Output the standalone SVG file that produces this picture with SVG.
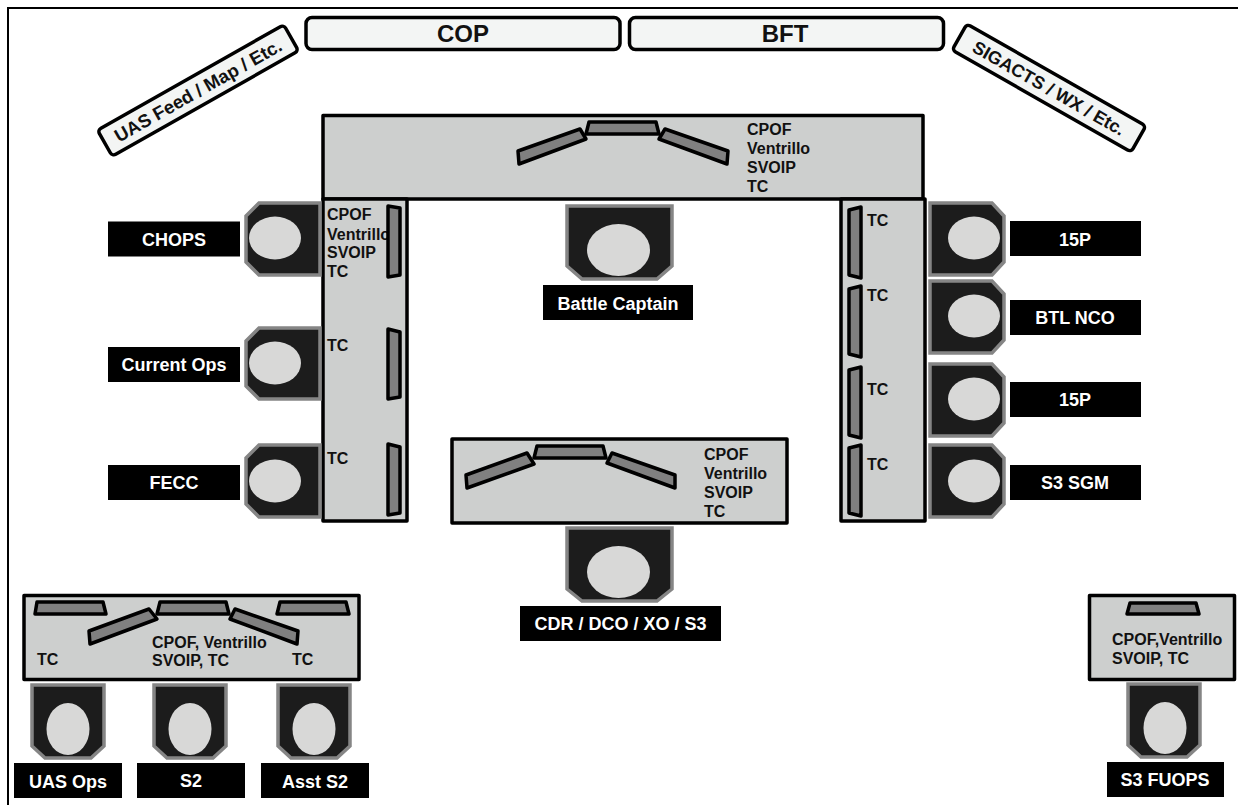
<svg xmlns="http://www.w3.org/2000/svg" width="1238" height="805" viewBox="0 0 1238 805">
<style>
text{font-family:"Liberation Sans",Arial,sans-serif;font-weight:700}
.desk{fill:#cdcfce;stroke:#000;stroke-width:3.5;stroke-linejoin:round}
.mon{fill:#808080;stroke:#000;stroke-width:3.5;stroke-linejoin:round}
.scr{fill:#f3f5f4;stroke:#000;stroke-width:3.5}
.chair{fill:#1c1c1c;stroke:#858585;stroke-width:3.5}
.head{fill:#d8d8d7}
.lab{fill:#000}
.lt{fill:#fff;font-size:18px;text-anchor:middle}
.t{fill:#111;font-size:16px}
</style>
<rect x="8" y="8" width="1240" height="830" fill="#fff" stroke="#000" stroke-width="2"/>
<g id="screens">
<rect class="scr" x="306" y="17.500" width="314" height="32" rx="6"/>
<text x="463" y="42" font-size="24" text-anchor="middle" fill="#111">COP</text>
<rect class="scr" x="629.500" y="17.500" width="314" height="32" rx="6"/>
<text x="785" y="42" font-size="24" text-anchor="middle" fill="#111">BFT</text>
<g transform="translate(198 90.500) rotate(-29.500)"><rect class="scr" x="-107" y="-15" width="214" height="30" rx="4"/><text y="6.500" font-size="18.500" text-anchor="middle" fill="#111">UAS Feed / Map / Etc.</text></g>
<g transform="translate(1049 88) rotate(29.700)"><rect class="scr" x="-103" y="-15" width="206" height="30" rx="4"/><text y="6.500" font-size="18" text-anchor="middle" fill="#111">SIGACTS / WX / Etc.</text></g>
</g>
<g id="top-desk">
<rect class="desk" x="323" y="115.500" width="600" height="83.500"/>
<polygon class="mon" points="589,122 656,122 659,134 586,134"/>
<polygon class="mon" points="518,151 580,129 586,139 519,164"/>
<polygon class="mon" points="665,129 728,151 727,164 659,139"/>
<text class="t" x="747" y="135">CPOF</text><text class="t" x="747" y="154">Ventrillo</text><text class="t" x="747" y="173">SVOIP</text><text class="t" x="747" y="192">TC</text>
</g>
<g id="left-desk">
<rect class="desk" x="323" y="199" width="84" height="322"/>
<text class="t" x="327" y="220">CPOF</text><text class="t" x="327" y="240">Ventrillo</text><text class="t" x="327" y="258">SVOIP</text><text class="t" x="327" y="277">TC</text>
<text class="t" x="327" y="351">TC</text><text class="t" x="327" y="464">TC</text>
<polygon class="mon" points="388,206 400,208 400,275 388,277"/>
<polygon class="mon" points="388,329 400,332 400,397 388,399"/>
<polygon class="mon" points="388,444 400,447 400,513 388,515"/>
</g>
<g id="right-desk">
<rect class="desk" x="841" y="199" width="84" height="322"/>
<polygon class="mon" points="861,207 849,210 849,275 861,278"/>
<polygon class="mon" points="861,286 849,289 849,354 861,357"/>
<polygon class="mon" points="861,367 849,370 849,435 861,438"/>
<polygon class="mon" points="861,445 849,448 849,513 861,516"/>
<text class="t" x="867" y="226">TC</text><text class="t" x="867" y="301">TC</text><text class="t" x="867" y="395">TC</text><text class="t" x="867" y="470">TC</text>
</g>
<g id="center-desk">
<rect class="desk" x="452" y="439" width="335" height="84"/>
<polygon class="mon" points="537,446 603,446 606,458 534,458"/>
<polygon class="mon" points="466,475 527,453 534,464 467,488"/>
<polygon class="mon" points="612,453 675,475 675,488 607,463"/>
<text class="t" x="704" y="460">CPOF</text><text class="t" x="704" y="479">Ventrillo</text><text class="t" x="704" y="498">SVOIP</text><text class="t" x="704" y="517">TC</text>
</g>
<g id="s2-desk">
<rect class="desk" x="24" y="595.500" width="335" height="84"/>
<polygon class="mon" points="37,602 103,602 106,614 35,614"/>
<polygon class="mon" points="160,602 226,602 229,614 157,614"/>
<polygon class="mon" points="280,602 346,602 349,614 277,614"/>
<polygon class="mon" points="89,631 149,609 157,619 90,644"/>
<polygon class="mon" points="235,609 298,631 297,644 230,619"/>
<text class="t" x="152" y="648">CPOF, Ventrillo</text><text class="t" x="152" y="666">SVOIP, TC</text>
<text class="t" x="37" y="665">TC</text><text class="t" x="292" y="665">TC</text>
</g>
<g id="fuops-desk">
<rect class="desk" x="1089.500" y="595.500" width="145" height="84"/>
<polygon class="mon" points="1130,603 1196,603 1199,614 1127,614"/>
<text class="t" x="1112" y="645">CPOF,Ventrillo</text><text class="t" x="1112" y="664">SVOIP, TC</text>
</g>
<g id="battle-captain">
<polygon class="chair" points="567,206 672,206 672,266 657,279 582,279 567,266"/>
<ellipse class="head" cx="618.500" cy="250" rx="31.500" ry="26"/>
<rect class="lab" x="543" y="285" width="150" height="35"/><text class="lt" x="618" y="310">Battle Captain</text>
</g>
<g id="cdr">
<polygon class="chair" points="567,528 672,528 672,589 657,601 582,601 567,589"/>
<ellipse class="head" cx="618.500" cy="572" rx="31.500" ry="26"/>
<rect class="lab" x="520" y="606" width="201" height="35"/><text class="lt" x="620.500" y="630">CDR / DCO / XO / S3</text>
</g>
<g id="chops">
<polygon class="chair" points="320,203 320,275 259,275 246,262 246,216 259,203"/>
<ellipse class="head" cx="275" cy="238" rx="26" ry="21.500"/>
<rect class="lab" x="108" y="221.500" width="132" height="35"/><text class="lt" x="174" y="246">CHOPS</text>
</g>
<g id="current-ops">
<polygon class="chair" points="320,328 320,399 259,399 246,386 246,341 259,328"/>
<ellipse class="head" cx="275" cy="363" rx="26" ry="21.500"/>
<rect class="lab" x="108" y="347" width="132" height="35"/><text class="lt" x="174" y="371">Current Ops</text>
</g>
<g id="fecc">
<polygon class="chair" points="320,445 320,517 259,517 246,504 246,458 259,445"/>
<ellipse class="head" cx="275" cy="481" rx="26" ry="21.500"/>
<rect class="lab" x="108" y="465" width="132" height="35"/><text class="lt" x="174" y="489">FECC</text>
</g>
<g id="p15-a">
<polygon class="chair" points="930,203 992,203 1004,216 1004,262 992,275 930,275"/>
<ellipse class="head" cx="974" cy="238" rx="26" ry="21.500"/>
<rect class="lab" x="1010" y="221" width="131" height="35"/><text class="lt" x="1075" y="246">15P</text>
</g>
<g id="btl-nco">
<polygon class="chair" points="930,281 992,281 1004,294 1004,340 992,353 930,353"/>
<ellipse class="head" cx="974" cy="316" rx="26" ry="21.500"/>
<rect class="lab" x="1010" y="300" width="131" height="35"/><text class="lt" x="1075" y="324">BTL NCO</text>
</g>
<g id="p15-b">
<polygon class="chair" points="930,364 992,364 1004,377 1004,423 992,436 930,436"/>
<ellipse class="head" cx="974" cy="399" rx="26" ry="21.500"/>
<rect class="lab" x="1010" y="382" width="131" height="35"/><text class="lt" x="1075" y="406">15P</text>
</g>
<g id="s3-sgm">
<polygon class="chair" points="930,445 992,445 1004,458 1004,504 992,517 930,517"/>
<ellipse class="head" cx="974" cy="481" rx="26" ry="21.500"/>
<rect class="lab" x="1010" y="465" width="131" height="35"/><text class="lt" x="1075" y="489">S3 SGM</text>
</g>
<g id="uas-ops">
<polygon class="chair" points="32,685 104,685 104,746 91,758 45,758 32,746"/>
<ellipse class="head" cx="68" cy="729" rx="21.500" ry="26"/>
<rect class="lab" x="14" y="763" width="108" height="35"/><text class="lt" x="68" y="788">UAS Ops</text>
</g>
<g id="s2">
<polygon class="chair" points="154,685 226,685 226,746 213,758 167,758 154,746"/>
<ellipse class="head" cx="190" cy="729" rx="21.500" ry="26"/>
<rect class="lab" x="137" y="763" width="108" height="35"/><text class="lt" x="191" y="787">S2</text>
</g>
<g id="asst-s2">
<polygon class="chair" points="278,685 350,685 350,746 337,758 291,758 278,746"/>
<ellipse class="head" cx="314" cy="729" rx="21.500" ry="26"/>
<rect class="lab" x="261" y="763" width="108" height="35"/><text class="lt" x="315" y="788">Asst S2</text>
</g>
<g id="s3-fuops">
<polygon class="chair" points="1128,684 1200,684 1200,745 1187,757 1141,757 1128,745"/>
<ellipse class="head" cx="1165" cy="728" rx="21.500" ry="26"/>
<rect class="lab" x="1107" y="762" width="117" height="35"/><text class="lt" x="1165" y="786">S3 FUOPS</text>
</g>
</svg>
